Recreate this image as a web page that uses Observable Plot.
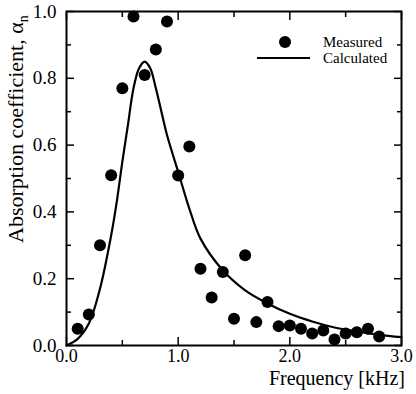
<!DOCTYPE html>
<html>
<head>
<meta charset="utf-8">
<script src="https://cdn.jsdelivr.net/npm/d3@7"></script>
<script src="https://cdn.jsdelivr.net/npm/@observablehq/plot@0.6"></script>
<style>
  html, body { margin: 0; padding: 0; background: white; }
  #chart { position: relative; width: 416px; height: 394px; }
</style>
</head>
<body>
<div id="chart"></div>
<script>
// Measured absorption coefficient
const measFreq = [0.1, 0.2, 0.3, 0.4, 0.5, 0.6, 0.7, 0.8, 0.9, 1.0, 1.1, 1.2, 1.3, 1.4, 1.5, 1.6, 1.7, 1.8, 1.9, 2.0, 2.1, 2.2, 2.3, 2.4, 2.5, 2.6, 2.7, 2.8];
const measAlpha = [0.05, 0.093, 0.30, 0.51, 0.77, 0.985, 0.81, 0.886, 0.97, 0.509, 0.596, 0.23, 0.144, 0.22, 0.08, 0.27, 0.07, 0.13, 0.058, 0.06, 0.05, 0.036, 0.045, 0.018, 0.036, 0.04, 0.05, 0.027];

// Calculated absorption coefficient
const calcFreq = [0, 0.1, 0.2, 0.3, 0.4, 0.45, 0.5, 0.55, 0.6, 0.65, 0.7, 0.75, 0.8, 0.85, 0.9, 1.0, 1.1, 1.2, 1.4, 1.6, 1.8, 2.0, 2.2, 2.4, 2.6, 2.8, 3.0];
const calcAlpha = [0, 0.02, 0.066, 0.17, 0.33, 0.43, 0.55, 0.66, 0.77, 0.83, 0.85, 0.83, 0.77, 0.70, 0.63, 0.52, 0.41, 0.32, 0.225, 0.165, 0.126, 0.095, 0.072, 0.054, 0.042, 0.032, 0.025];

// Tick definitions
const xLabelTicks = [0, 1, 2, 3];
const xMinorTicks = [0.5, 1.5, 2.5];
const yLabelTicks = [0, 0.2, 0.4, 0.6, 0.8, 1.0];
const yMinorTicks = [0.1, 0.3, 0.5, 0.7, 0.9];

const xLabel = "Frequency [kHz]";
const yLabel = "Absorption coefficient, α";
const yLabelSub = "n";
const legendLabels = ["Measured", "Calculated"];

const measured = measFreq.map((f, i) => ({f, a: measAlpha[i]}));
const calculated = calcFreq.map((f, i) => ({f, a: calcAlpha[i]}));

const fmt = d3.format(".1f");
const font = "Liberation Serif";

const plot = Plot.plot({
  width: 416,
  height: 394,
  marginLeft: 66,
  marginRight: 15,
  marginTop: 11,
  marginBottom: 49,
  style: {fontFamily: font, fontSize: "18px", background: "white", color: "black"},
  x: {domain: [0, 3]},
  y: {domain: [0, 1]},
  marks: [
    // labels
    Plot.axisX({ticks: xLabelTicks, tickSize: 0, tickPadding: 4, tickFormat: fmt, label: null, fontSize: 18}),
    Plot.axisY({ticks: yLabelTicks, tickSize: 0, tickPadding: 10, tickFormat: fmt, label: null, fontSize: 19}),
    // inward ticks bottom/top
    Plot.axisX({anchor: "bottom", ticks: xLabelTicks, tickSize: -8, text: null, label: null, strokeWidth: 1.5}),
    Plot.axisX({anchor: "bottom", ticks: xMinorTicks, tickSize: -5, text: null, label: null, strokeWidth: 1.5}),
    Plot.axisX({anchor: "top", ticks: xLabelTicks, tickSize: -8, text: null, label: null, strokeWidth: 1.5}),
    Plot.axisX({anchor: "top", ticks: xMinorTicks, tickSize: -5, text: null, label: null, strokeWidth: 1.5}),
    // inward ticks left/right
    Plot.axisY({anchor: "left", ticks: yLabelTicks, tickSize: -8, text: null, label: null, strokeWidth: 1.5}),
    Plot.axisY({anchor: "left", ticks: yMinorTicks, tickSize: -5, text: null, label: null, strokeWidth: 1.5}),
    Plot.axisY({anchor: "right", ticks: yLabelTicks, tickSize: -8, text: null, label: null, strokeWidth: 1.5}),
    Plot.axisY({anchor: "right", ticks: yMinorTicks, tickSize: -5, text: null, label: null, strokeWidth: 1.5}),
    Plot.frame({stroke: "black", strokeWidth: 2}),
    Plot.line(calculated, {x: "f", y: "a", curve: "catmull-rom", stroke: "black", strokeWidth: 2.2}),
    Plot.dot(measured, {x: "f", y: "a", r: 6, fill: "black", stroke: "none"})
  ]
});

document.getElementById("chart").appendChild(plot);

const svg = d3.select(plot);

// x axis title
svg.append("text")
  .attr("x", 405).attr("y", 385)
  .attr("text-anchor", "end")
  .attr("font-size", 20)
  .attr("fill", "black")
  .text(xLabel);

// y axis title with subscript
const yt = svg.append("text")
  .attr("transform", "translate(23,243) rotate(-90)")
  .attr("text-anchor", "start")
  .attr("font-size", 22)
  .attr("fill", "black");
yt.append("tspan").text(yLabel);
yt.append("tspan").attr("font-size", 14).attr("dy", 5).text(yLabelSub);

// legend
const lg = svg.append("g").attr("font-size", 15).attr("fill", "black").attr("text-anchor", "start");
lg.append("circle").attr("cx", 285).attr("cy", 42).attr("r", 6).attr("fill", "black");
lg.append("line").attr("x1", 257).attr("x2", 310).attr("y1", 58).attr("y2", 58).attr("stroke", "black").attr("stroke-width", 2);
lg.append("text").attr("x", 323).attr("y", 47).attr("text-anchor", "start").text(legendLabels[0]);
lg.append("text").attr("x", 323).attr("y", 63).attr("text-anchor", "start").text(legendLabels[1]);

// force the serif face on every text
svg.selectAll("text").attr("font-family", font).style("font-family", font);
svg.selectAll("g").attr("font-family", font);
svg.attr("font-family", font).style("font-family", font);
</script>
</body>
</html>
